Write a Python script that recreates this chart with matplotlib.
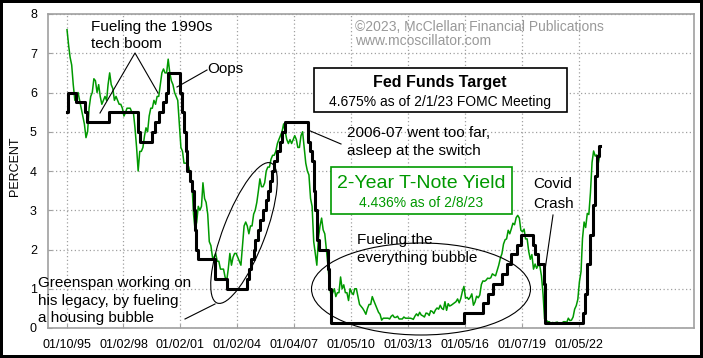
import pandas as pd
import numpy as np
import matplotlib.pyplot as plt
import matplotlib.dates as mdates
from matplotlib.patches import Ellipse, Rectangle

plt.rcParams['font.family'] = ['Liberation Sans', 'DejaVu Sans']

# Fed funds target (midpoint), change dates and new level
ff_dates = ["1995-01-10", "1995-02-01", "1995-07-06", "1995-12-19", "1996-01-31",
            "1997-03-25", "1998-09-29", "1998-10-15", "1998-11-17", "1999-06-30",
            "1999-08-24", "1999-11-16", "2000-02-02", "2000-03-21", "2000-05-16",
            "2001-01-03", "2001-01-31", "2001-03-20", "2001-04-18", "2001-05-15",
            "2001-06-27", "2001-08-21", "2001-09-17", "2001-10-02", "2001-11-06",
            "2001-12-11", "2002-11-06", "2003-06-25", "2004-06-30", "2004-08-10",
            "2004-09-21", "2004-11-10", "2004-12-14", "2005-02-02", "2005-03-22",
            "2005-05-03", "2005-06-30", "2005-08-09", "2005-09-20", "2005-11-01",
            "2005-12-13", "2006-01-31", "2006-03-28", "2006-05-10", "2006-06-29",
            "2007-09-18", "2007-10-31", "2007-12-11", "2008-01-22", "2008-01-30",
            "2008-03-18", "2008-04-30", "2008-10-08", "2008-10-29", "2008-12-16",
            "2015-12-16", "2016-12-14", "2017-03-15", "2017-06-14", "2017-12-13",
            "2018-03-21", "2018-06-13", "2018-09-26", "2018-12-19", "2019-07-31",
            "2019-09-18", "2019-10-30", "2020-03-03", "2020-03-15", "2022-03-16",
            "2022-05-04", "2022-06-15", "2022-07-27", "2022-09-21", "2022-11-02",
            "2022-12-14", "2023-02-01", "2023-02-08"]
ff_rate = [5.5, 6.0, 5.75, 5.5, 5.25,
           5.5, 5.25, 5.0, 4.75, 5.0,
           5.25, 5.5, 5.75, 6.0, 6.5,
           6.0, 5.5, 5.0, 4.5, 4.0,
           3.75, 3.5, 3.0, 2.5, 2.0,
           1.75, 1.25, 1.0, 1.25, 1.5,
           1.75, 2.0, 2.25, 2.5, 2.75,
           3.0, 3.25, 3.5, 3.75, 4.0,
           4.25, 4.5, 4.75, 5.0, 5.25,
           4.75, 4.5, 4.25, 3.5, 3.0,
           2.25, 2.0, 1.5, 1.0, 0.125,
           0.375, 0.625, 0.875, 1.125, 1.375,
           1.625, 1.875, 2.125, 2.375, 2.125,
           1.875, 1.625, 1.125, 0.125, 0.375,
           0.875, 1.625, 2.375, 3.125, 3.875,
           4.375, 4.625, 4.625]

# 2-year T-note yield, monthly from Jan 1995
t2_yield = [
    7.6, 7.2, 6.9, 6.7, 6.2, 5.8, 5.9, 6.0, 5.8, 5.6, 5.4, 5.2,    # 1995
    4.85, 5.0, 5.6, 5.9, 6.0, 6.35, 6.3, 6.0, 6.2, 5.9, 5.7, 5.8,  # 1996
    5.9, 5.8, 6.2, 6.5, 6.2, 6.1, 5.8, 5.9, 5.8, 5.7, 5.7, 5.6,    # 1997
    5.4, 5.5, 5.6, 5.6, 5.6, 5.5, 5.5, 5.1, 4.6, 4.0, 4.5, 4.5,    # 1998
    4.6, 4.9, 5.1, 5.0, 5.4, 5.6, 5.6, 5.8, 5.7, 5.9, 5.9, 6.2,    # 1999
    6.5, 6.6, 6.5, 6.5, 6.85, 6.5, 6.3, 6.2, 6.0, 5.9, 5.8, 5.2,   # 2000
    4.6, 4.5, 4.2, 4.2, 4.2, 4.1, 3.9, 3.7, 2.9, 2.5, 2.7, 3.1,    # 2001
    3.0, 3.1, 3.7, 3.3, 3.2, 2.9, 2.2, 2.1, 1.8, 1.8, 1.9, 1.7,    # 2002
    1.7, 1.5, 1.5, 1.5, 1.3, 1.2, 1.5, 1.9, 1.6, 1.8, 1.9, 1.9,    # 2003
    1.8, 1.7, 1.6, 2.1, 2.6, 2.7, 2.6, 2.4, 2.6, 2.6, 2.9, 3.0,    # 2004
    3.2, 3.5, 3.8, 3.6, 3.6, 3.7, 4.0, 4.1, 4.1, 4.3, 4.4, 4.4,    # 2005
    4.5, 4.7, 4.8, 4.9, 5.0, 5.2, 5.0, 4.8, 4.7, 4.8, 4.7, 4.8,    # 2006
    4.9, 4.8, 4.6, 4.6, 4.9, 5.0, 4.6, 4.2, 4.0, 3.9, 3.3, 3.1,    # 2007
    2.2, 1.9, 1.6, 2.3, 2.6, 2.8, 2.5, 2.4, 2.0, 1.6, 1.1, 0.8,    # 2008
    0.9, 1.0, 0.8, 0.9, 0.9, 1.3, 1.0, 1.1, 0.9, 0.9, 0.7, 1.0,    # 2009
    0.9, 0.85, 1.0, 1.0, 0.8, 0.6, 0.55, 0.5, 0.43, 0.35, 0.5, 0.6,  # 2010
    0.6, 0.8, 0.7, 0.6, 0.5, 0.4, 0.35, 0.2, 0.25, 0.25, 0.25, 0.25,  # 2011
    0.23, 0.3, 0.33, 0.27, 0.27, 0.3, 0.23, 0.23, 0.23, 0.28, 0.25, 0.25,  # 2012
    0.25, 0.25, 0.24, 0.22, 0.3, 0.36, 0.31, 0.4, 0.33, 0.31, 0.28, 0.38,  # 2013
    0.37, 0.32, 0.44, 0.42, 0.37, 0.46, 0.51, 0.48, 0.58, 0.5, 0.47, 0.67,  # 2014
    0.45, 0.62, 0.56, 0.58, 0.61, 0.64, 0.67, 0.74, 0.64, 0.75, 0.93, 1.06,  # 2015
    0.76, 0.78, 0.73, 0.78, 0.87, 0.58, 0.66, 0.81, 0.77, 0.84, 1.11, 1.2,   # 2016
    1.19, 1.22, 1.27, 1.26, 1.28, 1.38, 1.35, 1.33, 1.47, 1.6, 1.78, 1.89,   # 2017
    2.14, 2.25, 2.27, 2.49, 2.4, 2.53, 2.67, 2.63, 2.81, 2.87, 2.8, 2.49,    # 2018
    2.45, 2.52, 2.27, 2.27, 1.95, 1.75, 1.87, 1.5, 1.63, 1.52, 1.61, 1.58,   # 2019
    1.33, 0.86, 0.23, 0.2, 0.16, 0.16, 0.11, 0.14, 0.13, 0.14, 0.15, 0.12,   # 2020
    0.11, 0.13, 0.16, 0.16, 0.14, 0.25, 0.19, 0.2, 0.28, 0.48, 0.57, 0.73,   # 2021
    1.18, 1.44, 2.28, 2.7, 2.56, 2.92, 2.89, 3.45, 4.22, 4.51, 4.38, 4.41,   # 2022
    4.21, 4.44,                                                             # 2023
]

tick_dates = ["1995-01-10", "1998-01-02", "2001-01-02", "2004-01-02", "2007-01-04",
              "2010-01-05", "2013-01-03", "2016-01-05", "2019-01-07", "2022-01-05"]

green = "#009900"

ff_x = pd.to_datetime(ff_dates)
t2_x = pd.date_range("1995-01-01", periods=len(t2_yield), freq="MS") + pd.Timedelta(days=10)

fig = plt.figure(figsize=(7.03, 3.58), dpi=100)
fig.patch.set_edgecolor("black")
fig.patch.set_linewidth(3)

W, H = 703, 358
ax = fig.add_axes([48 / W, 1 - 328 / H, 646 / W, 314 / H])

ax.plot(t2_x, t2_yield, color=green, lw=1.1, zorder=3)
ax.plot(ff_x, ff_rate, color="black", lw=2.2, drawstyle="steps-post", zorder=4)

ax.set_ylim(0, 8)
ax.set_xlim(pd.Timestamp("1994-01-10"), pd.Timestamp("2028-01-25"))
ax.set_yticks(range(0, 9))
ax.set_xticks(pd.to_datetime(tick_dates))
ax.xaxis.set_major_formatter(mdates.DateFormatter("%m/%d/%y"))
ax.tick_params(axis="both", direction="in", length=3, color="#a0a0a0", labelsize=9, pad=8)
ax.grid(True, color="#a0a0a0", linestyle=(0, (1, 2)), lw=0.9)
for s in ax.spines.values():
    s.set_color("#a0a0a0")
    s.set_linewidth(1.2)

fig.text(15 / W, 1 - 166 / H, "PERCENT", rotation=90, ha="center", va="center", fontsize=9)

# overlay in pixel coords for annotations
ov = fig.add_axes([0, 0, 1, 1], zorder=10)
ov.set_xlim(0, W)
ov.set_ylim(H, 0)
ov.axis("off")
ov.patch.set_alpha(0)

def txt(x, y, s, **kw):
    kw.setdefault("fontsize", 11)
    kw.setdefault("va", "baseline")
    ov.text(x, y, s, **kw)

txt(91, 31.5, "Fueling the 1990s")
txt(91, 48, "tech boom")
ov.plot([100, 135, 158], [113, 53, 93], color="black", lw=0.8)

txt(207, 73, "Oops")
ov.plot([177, 207], [87, 70], color="black", lw=0.8)

txt(355, 31, "\u00a92023, McClellan Financial Publications", fontsize=10, color="#999999")
txt(355, 45, "www.mcoscillator.com", fontsize=10, color="#999999")

ov.add_patch(Rectangle((314, 68), 253, 44, facecolor="white", edgecolor="black", lw=1.2))
txt(440, 87, "Fed Funds Target", fontsize=11.5, weight="bold", ha="center")
txt(440, 106, "4.675% as of 2/1/23 FOMC Meeting", fontsize=10, ha="center")

txt(347, 137, "2006-07 went too far,")
txt(347, 155, "asleep at the switch")
ov.plot([308, 341], [130, 144], color="black", lw=0.8)

ov.add_patch(Rectangle((331, 167), 181, 47, facecolor="white", edgecolor=green, lw=1.2))
txt(421, 188, "2-Year T-Note Yield", fontsize=14, color=green, ha="center")
txt(421, 207, "4.436% as of 2/8/23", fontsize=10, color=green, ha="center")

txt(533, 188, "Covid")
txt(533, 208, "Crash")
ov.plot([553, 545], [215, 270], color="black", lw=0.8)

txt(357, 244, "Fueling the")
txt(357, 262, "everything bubble")
ov.add_patch(Ellipse((421, 289), 219, 92, fill=False, edgecolor="black", lw=0.8))

txt(38, 287, "Greenspan working on")
txt(38, 305, "his legacy, by fueling")
txt(38, 322, "a housing bubble")
ov.plot([185, 215], [319, 304], color="black", lw=0.8)
ov.add_patch(Ellipse((244, 233), 150, 42, angle=-69, fill=False, edgecolor="black", lw=0.8))

fig.savefig("out.png", dpi=100, edgecolor=fig.get_edgecolor())
